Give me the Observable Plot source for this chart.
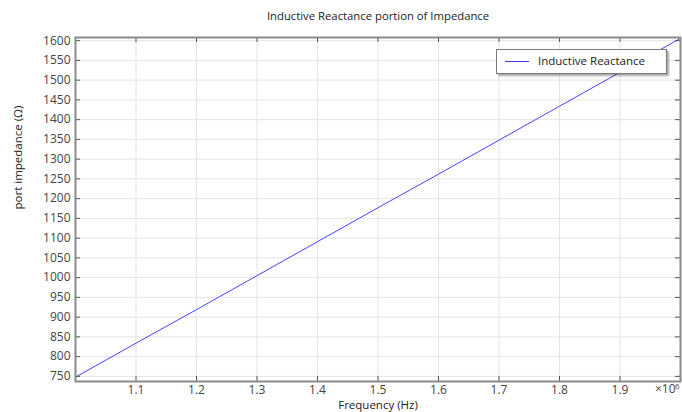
<!DOCTYPE html>
<html><head><meta charset="utf-8">
<script src="https://cdn.jsdelivr.net/npm/d3@7"></script>
<script src="https://cdn.jsdelivr.net/npm/@observablehq/plot@0.6"></script>
<style>
body{margin:0;background:#fff;font-family:"Open Sans",sans-serif;}
#wrap{position:relative;width:682px;height:412px;}
#legend{position:absolute;left:496px;top:49px;width:169px;height:23px;background:#fff;border:1px solid #7a7a7a;box-shadow:2px 2px 2px rgba(0,0,0,0.35);font-size:11.5px;color:#222;}
#legend .sw{position:absolute;left:8px;top:11px;width:24px;height:1px;background:#3a3aff;}
#legend .lb{position:absolute;left:41px;top:3px;}
</style></head>
<body><div id="wrap"><div id="legend"><div class="sw"></div><div class="lb" id="lb"></div></div></div>
<script>
const title = "Inductive Reactance portion of Impedance";
const xLabel = "Frequency (Hz)";
const yLabel = "port impedance (Ω)";
const seriesName = "Inductive Reactance";
const freqMHz = [1.0, 1.1, 1.2, 1.3, 1.4, 1.5, 1.6, 1.7, 1.8, 1.9, 2.0];
const reactance = [748, 834, 919, 1005, 1091, 1177, 1262, 1348, 1434, 1520, 1606];
const xTicks = [1.1, 1.2, 1.3, 1.4, 1.5, 1.6, 1.7, 1.8, 1.9];
const yTicks = [750, 800, 850, 900, 950, 1000, 1050, 1100, 1150, 1200, 1250, 1300, 1350, 1400, 1450, 1500, 1550, 1600];

document.getElementById("lb").textContent = seriesName;
const data = freqMHz.map((f, i) => ({f, v: reactance[i]}));
const W = 682, H = 412, mL = 75, mR = 2, mT = 37, mB = 31;
const fw = W - mL - mR, fh = H - mT - mB;

const chart = Plot.plot({
  width: W, height: H,
  marginLeft: mL, marginRight: mR, marginTop: mT, marginBottom: mB,
  style: {fontFamily: "Open Sans, sans-serif", fontSize: "12px", color: "#444", background: "#fff"},
  x: {domain: [1.0, 2.0], label: null},
  y: {domain: [737, 1608], label: null},
  marks: [
    Plot.gridX(xTicks, {stroke: "#e4e4e4", strokeOpacity: 1}),
    Plot.gridY(yTicks, {stroke: "#e4e4e4", strokeOpacity: 1}),
    Plot.line(data, {x: "f", y: "v", stroke: "#4444ff", strokeWidth: 1}),
    Plot.tickX(xTicks, {x: d => d, insetTop: fh - 5, stroke: "#555"}),
    Plot.tickX(xTicks, {x: d => d, insetBottom: fh - 5, stroke: "#555"}),
    Plot.tickY(yTicks, {y: d => d, insetRight: fw - 5, stroke: "#555"}),
    Plot.tickY(yTicks, {y: d => d, insetLeft: fw - 5, stroke: "#555"}),
    Plot.frame({stroke: "#8a8a8a", strokeWidth: 2}),
    Plot.axisX(xTicks, {tickSize: 0, tickPadding: 4, tickFormat: d3.format(".1f"), fill: "#444", label: null}),
    Plot.axisY(yTicks, {tickSize: 0, tickPadding: 5, tickFormat: d => String(d), fill: "#444", label: null}),
    Plot.text([title], {frameAnchor: "top", dy: -26, text: d => d, fill: "#222", fontSize: 11.3}),
    Plot.text([xLabel], {frameAnchor: "bottom", dy: 27, text: d => d, fill: "#222", fontSize: 11.5}),
    Plot.text([yLabel], {frameAnchor: "left", dx: -57, rotate: -90, text: d => d, fill: "#222", fontSize: 11.5}),
    Plot.text(["×10"], {frameAnchor: "bottom-right", dx: -5, dy: 11, text: d => d, textAnchor: "end", fill: "#444", fontSize: 12}),
    Plot.text(["6"], {frameAnchor: "bottom-right", dx: -1, dy: 7, text: d => d, textAnchor: "end", fill: "#444", fontSize: 8})
  ]
});
document.getElementById("wrap").prepend(chart);
</script></body></html>
